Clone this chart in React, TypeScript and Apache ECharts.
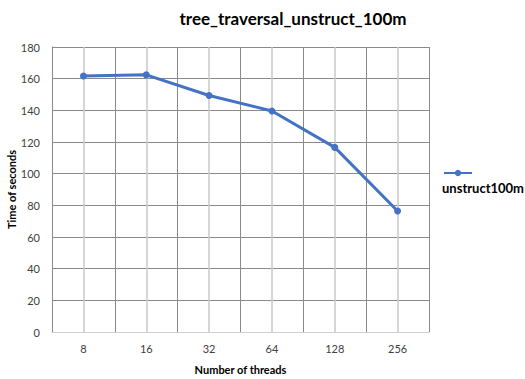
import React, { useEffect, useRef } from "react";
import * as echarts from "echarts";

const categories = ["8", "16", "32", "64", "128", "256"];
const unstruct100m = [161.7, 162.4, 149.4, 139.6, 116.6, 76.4];
const seriesName = "unstruct100m";
const yMin = 0;
const yMax = 180;
const yInterval = 20;

export default function App() {
  const ref = useRef<HTMLDivElement>(null);
  useEffect(() => {
    if (!ref.current) return;
    const chart = echarts.init(ref.current, undefined, { renderer: "svg" });
    const font = "Lato, 'Open Sans', sans-serif";
    chart.setOption({
      animation: false,
      backgroundColor: "#ffffff",
      title: {
        text: "tree_traversal_unstruct_100m",
        left: 288,
        textAlign: "center",
        top: 5,
        textStyle: { fontFamily: font, fontWeight: "bold", fontSize: 17, color: "#000" },
      },
      legend: {
        data: [seriesName],
        left: 437,
        top: 138,
        itemWidth: 28,
        itemHeight: 8,
        formatter: (name: string) => "\n" + name,
        textStyle: {
          fontFamily: font,
          fontSize: 13,
          fontWeight: "bold",
          color: "#000",
          lineHeight: 30,
          padding: [0, 0, 0, -35],
        },
      },
      grid: { left: 52, right: 96, top: 47, bottom: 47, outerBoundsMode: "none", containLabel: false },
      xAxis: {
        type: "category",
        data: categories,
        boundaryGap: true,
        name: "Number of threads",
        nameLocation: "middle",
        nameGap: 32,
        nameMoveOverlap: false,
        nameTextStyle: { fontFamily: font, fontWeight: "bold", fontSize: 11, color: "#000" },
        axisLine: { show: true, lineStyle: { color: "#d0d0d0", width: 1 } },
        axisTick: {
          show: true,
          alignWithLabel: true,
          inside: true,
          length: 285,
          lineStyle: { color: "#c8c8c8", width: 1.5 },
        },
        axisLabel: { fontFamily: font, fontSize: 11, color: "#404040", margin: 11 },
        splitLine: { show: true, lineStyle: { color: "#8a8a8a", width: 1 } },
      },
      yAxis: {
        type: "value",
        min: yMin,
        max: yMax,
        interval: yInterval,
        name: "Time of seconds",
        nameLocation: "middle",
        nameGap: 35,
        nameMoveOverlap: false,
        nameTextStyle: { fontFamily: font, fontWeight: "bold", fontSize: 11, color: "#000" },
        axisLine: { show: true, lineStyle: { color: "#8a8a8a", width: 1 } },
        axisTick: { show: false },
        axisLabel: { fontFamily: font, fontSize: 11, color: "#404040", margin: 12 },
        splitLine: { show: true, lineStyle: { color: "#8a8a8a", width: 1 } },
      },
      series: [
        {
          name: seriesName,
          type: "line",
          data: unstruct100m,
          symbol: "circle",
          symbolSize: 7,
          lineStyle: { color: "#4472C4", width: 3 },
          itemStyle: { color: "#4472C4" },
        },
      ],
    });
    return () => chart.dispose();
  }, []);
  return <div ref={ref} style={{ width: 525, height: 379, position: "absolute", left: 0, top: 0 }} />;
}
